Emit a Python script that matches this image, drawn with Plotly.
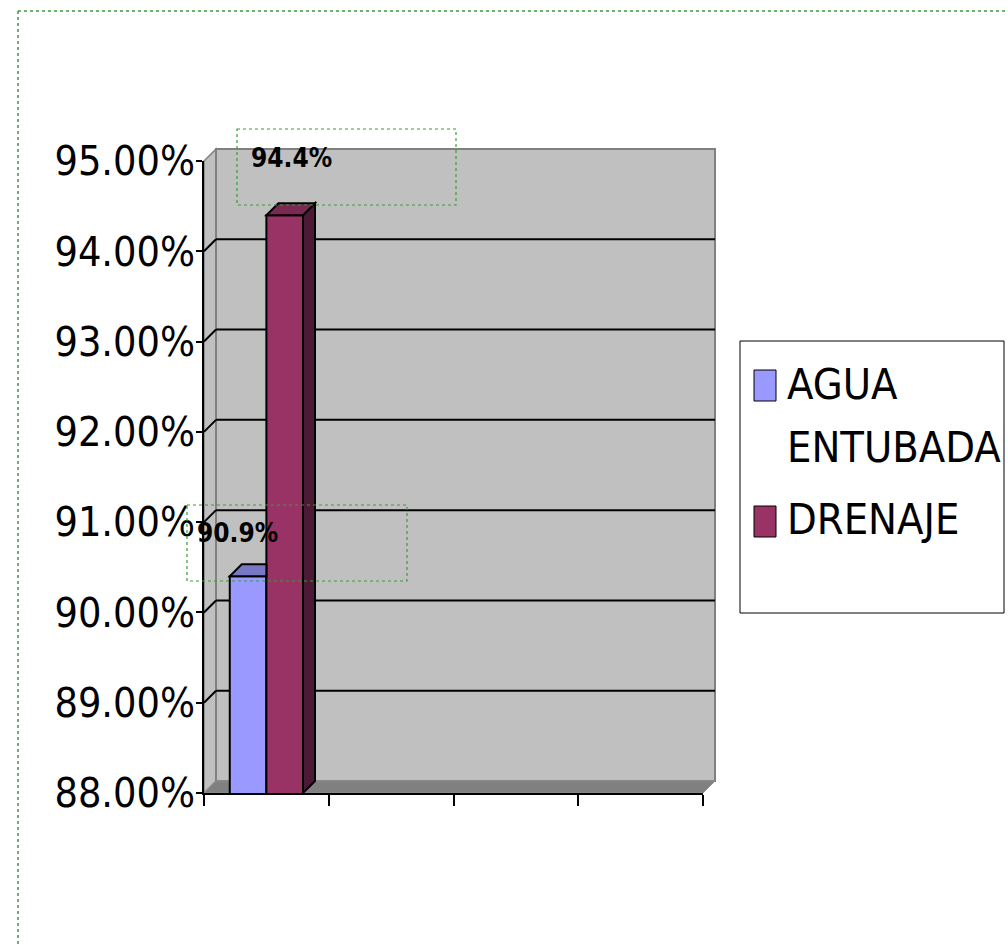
import plotly.graph_objects as go

# ---------------- data ----------------
series_names = ["AGUA ENTUBADA", "DRENAJE"]
legend_lines = [["AGUA", "ENTUBADA"], ["DRENAJE"]]
series_values = [0.904, 0.944]          # bar heights
label_texts = ["90.9%", "94.4%"]         # data labels as printed
category_pos = [0.5]                     # the single (unnamed) category
x_tick_vals = [0, 1, 2, 3, 4]
y_tick_vals = [0.88, 0.89, 0.90, 0.91, 0.92, 0.93, 0.94, 0.95]
grid_vals = [0.89, 0.90, 0.91, 0.92, 0.93, 0.94]

front_colors = ["#9999FF", "#993366"]
top_colors = ["#7878C4", "#7A2952"]
side_colors = ["#6A6AB0", "#4C1A35"]

# ---------------- geometry / style ----------------
FIG_W, FIG_H = 1008, 945
L, R, T, B = 204, 703, 161, 793
PW, PH = R - L, B - T
X_RANGE = [0, 4]
Y_RANGE = [0.88, 0.95]
ppx = PW / (X_RANGE[1] - X_RANGE[0])
ppy = PH / (Y_RANGE[1] - Y_RANGE[0])
DX, DY = 12, 12          # 3-D depth offset in px
bw = 0.2935              # bar width (x units)
offsets = [-bw, 0.0]
wpx = bw * ppx

NARROW = "Liberation Sans Narrow, DejaVu Sans Condensed, sans-serif"
GREEN = "#3C9A3C"


def fx(px):
    return (px - L) / PW


def fy(py):
    return (B - py) / PH


fig = go.Figure()

for i, name in enumerate(series_names):
    fig.add_trace(go.Bar(
        x=category_pos, y=[series_values[i]], name=name,
        width=[bw], offset=[offsets[i]],
        marker=dict(color=front_colors[i], line=dict(color="black", width=2)),
        showlegend=False, hoverinfo="y",
    ))

shapes = []
# outer dotted frame
shapes.append(dict(type="line", xref="paper", yref="paper", x0=fx(18), x1=fx(1008), y0=fy(11), y1=fy(11),
                   line=dict(color=GREEN, width=1.5, dash="dot"), layer="above"))
shapes.append(dict(type="line", xref="paper", yref="paper", x0=fx(18), x1=fx(18), y0=fy(11), y1=fy(945),
                   line=dict(color=GREEN, width=1.5, dash="dot"), layer="above"))
# side wall
shapes.append(dict(type="path", xref="paper", yref="paper",
                   path=f"M{fx(L)},{fy(T)} L{fx(L+DX)},{fy(T-DY)} L{fx(L+DX)},{fy(B-DY)} L{fx(L)},{fy(B)} Z",
                   fillcolor="#C0C0C0", line=dict(color="#808080", width=1.5), layer="below"))
# back wall
shapes.append(dict(type="rect", xref="paper", yref="paper",
                   x0=fx(L+DX), x1=fx(R+DX), y0=fy(T-DY), y1=fy(B-DY),
                   fillcolor="#C0C0C0", line=dict(color="#808080", width=2), layer="below"))
# floor
shapes.append(dict(type="path", xref="paper", yref="paper",
                   path=f"M{fx(L)},{fy(B)} L{fx(R)},{fy(B)} L{fx(R+DX)},{fy(B-DY)} L{fx(L+DX)},{fy(B-DY)} Z",
                   fillcolor="#808080", line=dict(color="#8E8E8E", width=1), layer="below"))
# gridlines on back wall + diagonals on side wall
for v in grid_vals:
    shapes.append(dict(type="line", xref="paper", yref="y", ysizemode="pixel", yanchor=v,
                       x0=fx(L+DX), x1=fx(R+DX), y0=DY, y1=DY,
                       line=dict(color="black", width=2), layer="below"))
    shapes.append(dict(type="line", xref="paper", yref="y", xsizemode="pixel", ysizemode="pixel",
                       xanchor=0, yanchor=v, x0=0, x1=DX, y0=0, y1=DY,
                       line=dict(color="black", width=2), layer="below"))

# 3-D faces of the bars
for i, v in enumerate(series_values):
    xa = category_pos[0] + offsets[i]
    h = (v - Y_RANGE[0]) * ppy
    if i < len(series_values) - 1:
        top = f"M0,0 L{wpx},0 L{wpx},{DY} L{DX},{DY} Z"
    else:
        top = f"M0,0 L{wpx},0 L{wpx+DX},{DY} L{DX},{DY} Z"
        shapes.append(dict(type="path", xref="x", yref="y", xsizemode="pixel", ysizemode="pixel",
                           xanchor=xa, yanchor=v,
                           path=f"M{wpx},0 L{wpx+DX},{DY} L{wpx+DX},{DY-h} L{wpx},{-h} Z",
                           fillcolor=side_colors[i], line=dict(color="black", width=2), layer="above"))
    shapes.append(dict(type="path", xref="x", yref="y", xsizemode="pixel", ysizemode="pixel",
                       xanchor=xa, yanchor=v, path=top,
                       fillcolor=top_colors[i], line=dict(color="black", width=2), layer="above"))

# data-label frames
for (x0, y0, x1, y1) in [(187, 505, 407, 581), (237, 129, 456, 205)]:
    shapes.append(dict(type="rect", xref="paper", yref="paper", x0=fx(x0), x1=fx(x1), y0=fy(y0), y1=fy(y1),
                       line=dict(color=GREEN, width=1.2, dash="dot"), fillcolor="rgba(0,0,0,0)", layer="above"))

# legend box and swatches
shapes.append(dict(type="rect", xref="paper", yref="paper", x0=fx(740), x1=fx(1004), y0=fy(341), y1=fy(613),
                   line=dict(color="black", width=1), fillcolor="white", layer="above"))
sw_tops = [370, 506]
for i in range(len(series_names)):
    shapes.append(dict(type="rect", xref="paper", yref="paper", x0=fx(754), x1=fx(776),
                       y0=fy(sw_tops[i]), y1=fy(sw_tops[i] + 31),
                       line=dict(color="black", width=1), fillcolor=front_colors[i], layer="above"))

annotations = []
label_shift = [(8, 43), (25, 57)]
for i, v in enumerate(series_values):
    annotations.append(dict(x=category_pos[0] + offsets[i], y=v, xref="x", yref="y",
                            text=f"<b>{label_texts[i]}</b>", showarrow=False,
                            xanchor="center", yanchor="middle",
                            xshift=label_shift[i][0], yshift=label_shift[i][1],
                            font=dict(family=NARROW, size=26, color="black")))

legend_line_mid = [[383.5, 447], [519]]
for i, lines in enumerate(legend_lines):
    for j, t in enumerate(lines):
        annotations.append(dict(x=fx(785), y=fy(legend_line_mid[i][j]), xref="paper", yref="paper",
                                text=t, showarrow=False, xanchor="left", yanchor="middle",
                                font=dict(family=NARROW, size=43, color="black")))

fig.update_layout(
    width=FIG_W, height=FIG_H,
    margin=dict(l=L, r=FIG_W - R, t=T, b=FIG_H - B, pad=0),
    paper_bgcolor="white", plot_bgcolor="rgba(0,0,0,0)",
    barmode="overlay",
    shapes=shapes, annotations=annotations,
    showlegend=False,
    xaxis=dict(range=X_RANGE, tickvals=x_tick_vals, ticks="outside", ticklen=11, tickwidth=1.5,
               tickcolor="black", showticklabels=False, showline=True, linecolor="black", linewidth=2,
               showgrid=False, zeroline=False),
    yaxis=dict(range=Y_RANGE, tickvals=y_tick_vals, tickformat=".2%", ticks="outside", ticklen=6,
               tickwidth=1.5, tickcolor="black", showline=True, linecolor="black", linewidth=1.5,
               showgrid=False, zeroline=False, ticklabelstandoff=-7,
               tickfont=dict(family=NARROW, size=41, color="black")),
)

fig.write_html("out.html")
